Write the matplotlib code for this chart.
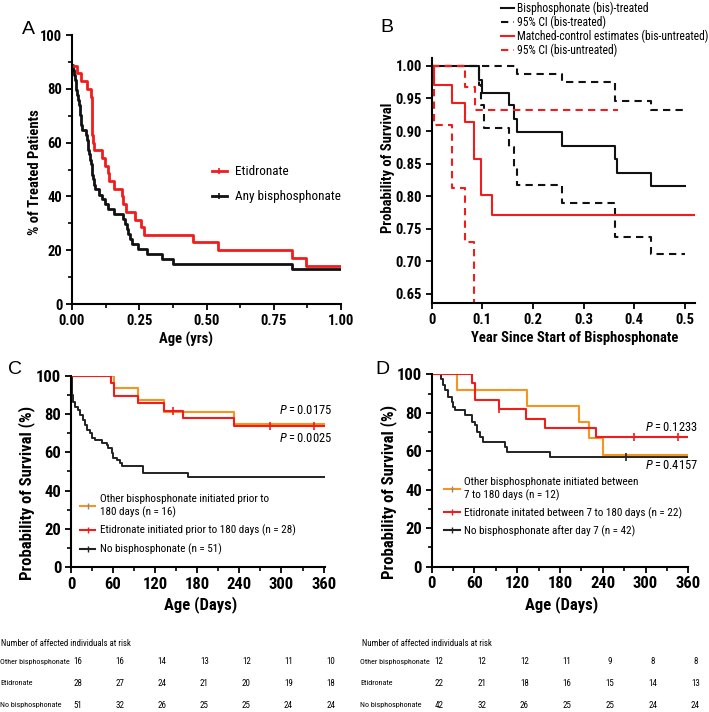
import numpy as np
import matplotlib
matplotlib.use("Agg")
import matplotlib.pyplot as plt
from matplotlib import font_manager
from matplotlib.lines import Line2D
from matplotlib.ticker import MultipleLocator
import matplotlib.transforms as mtransforms


def pick_narrow():
    prefs = ['Liberation Sans Narrow', 'Arial Narrow', 'Roboto Condensed', 'PT Sans Narrow',
             'Archivo Narrow', 'Fira Sans Condensed', 'Barlow Semi Condensed']
    for p in prefs:
        ws = []
        for f in font_manager.fontManager.ttflist:
            if f.name == p:
                try:
                    ws.append(int(f.weight))
                except (TypeError, ValueError):
                    ws.append(700 if 'bold' in str(f.weight) else 400)
        if ws and max(ws) >= 700 and min(ws) <= 400:
            return p
    return 'Liberation Sans'


NARROW = pick_narrow()
plt.rcParams['font.family'] = [NARROW, 'DejaVu Sans']
plt.rcParams['mathtext.fontset'] = 'custom'
plt.rcParams['mathtext.it'] = NARROW + ':italic'
plt.rcParams['mathtext.rm'] = NARROW

RED = '#f21c1c'
ORANGE = '#f7941d'
BLACK = '#111111'

# ---- panel A: % of treated patients vs age (yrs)
a_any_t = [0, 0.004, 0.007, 0.010, 0.013, 0.016, 0.019, 0.022, 0.025, 0.028, 0.031, 0.033,
           0.035, 0.038, 0.052, 0.055, 0.058, 0.061, 0.064, 0.067, 0.070, 0.073, 0.076,
           0.079, 0.082, 0.085, 0.101, 0.113, 0.123, 0.135, 0.155, 0.19, 0.197, 0.203,
           0.209, 0.215, 0.222, 0.247, 0.277, 0.333, 0.377, 0.818, 1.0]
a_any_s = [88.9, 87.0, 85.2, 83.3, 81.5, 79.6, 77.8, 75.9, 74.1, 72.2, 70.4, 68.5,
           66.7, 64.8, 63.0, 61.1, 59.3, 57.4, 55.6, 53.7, 51.9, 50.0, 48.1,
           46.3, 44.4, 42.6, 40.7, 38.9, 37.0, 35.2, 33.3, 31.5, 29.6, 27.8,
           25.9, 24.1, 22.2, 20.4, 18.5, 16.7, 14.8, 13.0, 13.0]
a_eti_t = [0, 0.017, 0.032, 0.057, 0.072, 0.073, 0.076, 0.078, 0.082, 0.11, 0.122, 0.135,
           0.138, 0.155, 0.185, 0.19, 0.2, 0.235, 0.255, 0.267, 0.449, 0.544, 0.818, 0.87, 1.0]
a_eti_s = [88.6, 85.7, 82.9, 80.0, 77.1, 65.7, 62.9, 60.0, 57.1, 54.3, 51.4, 48.6,
           45.7, 42.9, 40.0, 37.1, 34.3, 31.4, 28.6, 25.7, 22.9, 20.0, 17.1, 14.3, 14.3]
a_xticks = [0, 0.25, 0.5, 0.75, 1.0]
a_xlabels = ['0.00', '0.25', '0.50', '0.75', '1.00']
a_yticks = [0, 20, 40, 60, 80, 100]

# ---- panel B: probability of survival vs year since start
b_trt_t = [0, 0.094, 0.100, 0.153, 0.163, 0.168, 0.258, 0.362, 0.365, 0.434, 0.5]
b_trt_s = [1.0, 0.979, 0.959, 0.940, 0.919, 0.898, 0.877, 0.857, 0.836, 0.815, 0.815]
b_trt_hi_t = [0, 0.168, 0.258, 0.362, 0.434, 0.5]
b_trt_hi_s = [1.0, 0.987, 0.975, 0.946, 0.932, 0.932]
b_trt_lo_t = [0, 0.094, 0.098, 0.103, 0.153, 0.163, 0.168, 0.258, 0.362, 0.434, 0.5]
b_trt_lo_s = [1.0, 0.97, 0.94, 0.905, 0.875, 0.845, 0.817, 0.79, 0.738, 0.712, 0.712]
b_ctl_t = [0, 0.005, 0.041, 0.066, 0.084, 0.097, 0.12, 0.52]
b_ctl_s = [1.0, 0.971, 0.943, 0.914, 0.857, 0.802, 0.771, 0.771]
b_ctl_hi_t = [0, 0.066, 0.086, 0.368]
b_ctl_hi_s = [1.0, 0.968, 0.932, 0.932]
b_ctl_lo_t = [0, 0.005, 0.041, 0.066, 0.084]
b_ctl_lo_s = [1.0, 0.909, 0.812, 0.730, 0.60]
b_labels = ['Bisphosphonate (bis)-treated', '95% CI (bis-treated)',
            'Matched-control estimates (bis-untreated)', '95% CI (bis-untreated)']
b_xticks = [0, 0.1, 0.2, 0.3, 0.4, 0.5]
b_xlabels = ['0', '0.1', '0.2', '0.3', '0.4', '0.5']
b_yticks = [0.65, 0.70, 0.75, 0.80, 0.85, 0.90, 0.95, 1.00]

# ---- panel C: bisphosphonate initiated prior to 180 days
c_oth_t = [0, 61, 95, 133, 232, 362]
c_oth_s = [100, 93.75, 87.5, 81.25, 75.0, 75.0]
c_eti_t = [0, 57, 61, 95, 133, 160, 232, 362]
c_eti_s = [100, 96.4, 89.3, 85.7, 81.9, 78.0, 74.0, 74.0]
c_eti_cens = [146, 284, 346]
c_no_t = [0, 1, 3.3, 5.7, 10.5, 12.8, 17.6, 20, 22.4, 27.1, 29.5, 34.2, 43.8, 50.9, 53.3,
          58, 60.4, 65.2, 69.9, 73.3, 103.2, 167.4, 362]
c_no_s = [100, 90.1, 86.6, 84.0, 82.2, 79.6, 77.0, 74.4, 71.8, 70.1, 67.5, 66.6, 64.9, 64.0,
          62.2, 59.6, 57.0, 56.1, 54.4, 52.6, 49.2, 47.1, 47.1]
c_labels = ['Other bisphosphonate initiated prior to\n180 days (n = 16)',
            'Etidronate initiated prior to 180 days (n = 28)',
            'No bisphosphonate (n = 51)']
c_pvals = ['0.0175', '0.0025']
c_risk = [[16, 16, 14, 13, 12, 11, 10],
          [28, 27, 24, 21, 20, 19, 18],
          [51, 32, 26, 25, 25, 24, 24]]

# ---- panel D: initiated between 7 and 180 days
d_oth_t = [0, 35, 133, 206, 220, 241, 360]
d_oth_s = [100, 91.7, 83.3, 75.0, 66.7, 58.3, 58.3]
d_eti_t = [0, 57, 61, 94, 132, 159, 231, 360]
d_eti_s = [100, 95.5, 86.4, 81.8, 77.0, 72.2, 67.4, 67.4]
d_eti_cens = [94, 284, 345]
d_no_t = [0, 12.6, 16.3, 18.7, 23.4, 28.1, 30.4, 32.7, 46.8, 56.1, 60.8, 63.1, 67.8, 72.5,
          102.9, 105.3, 166, 360]
d_no_s = [100, 97.6, 94.4, 91.8, 88.4, 85.8, 83.2, 81.5, 78.9, 75.4, 73.7, 70.2, 67.6, 65.0,
          62.1, 59.8, 56.9, 56.9]
d_no_cens = [272]
d_labels = ['Other bisphosphonate initiated between\n7 to 180 days (n = 12)',
            'Etidronate initated between 7 to 180 days (n = 22)',
            'No bisphosphonate after day 7 (n = 42)']
d_pvals = ['0.1233', '0.4157']
d_risk = [[12, 12, 12, 11, 9, 8, 8],
          [22, 21, 18, 16, 15, 14, 13],
          [42, 32, 26, 25, 25, 24, 24]]

risk_rows = ['Other bisphosphonate', 'Etidronate', 'No bisphosphonate']
risk_days = [0, 60, 120, 180, 240, 300, 360]
km_yticks = [0, 20, 40, 60, 80, 100]


def style(ax, fs, xt, xl, yt, yl):
    for s in ['top', 'right']:
        ax.spines[s].set_visible(False)
    for s in ['left', 'bottom']:
        ax.spines[s].set_linewidth(1.5)
    ax.set_xticks(xt, xl, fontsize=fs, fontweight='bold')
    ax.set_yticks(yt, yl, fontsize=fs, fontweight='bold')
    ax.tick_params(which='major', length=4.5, width=1.3, direction='out', pad=2.5)
    ax.tick_params(which='minor', length=3, width=1.2, direction='out')


def labels(ax, xl, yl, fs, xpos, ypos):
    ax.set_xlabel(xl, fontsize=fs, fontweight='bold')
    ax.set_ylabel(yl, fontsize=fs, fontweight='bold')
    ax.xaxis.set_label_coords(*xpos)
    ax.yaxis.set_label_coords(*ypos)


def censor(ax, t_list, t, s, color):
    for c in t_list:
        i = np.searchsorted(t, c, side='right') - 1
        ax.plot([c], [s[i]], marker='|', color=color, ms=6, mew=1.2)


fig = plt.figure(figsize=(7.09, 7.12), dpi=100)

# ===== A
axA = fig.add_axes([0.1016, 0.5730, 0.3794, 0.3778])
axA.step(a_any_t, a_any_s, where='post', color=BLACK, lw=2)
axA.step(a_eti_t, a_eti_s, where='post', color=RED, lw=2)
style(axA, 10.5, a_xticks, a_xlabels, a_yticks, [str(v) for v in a_yticks])
axA.set_xlim(0, 1.0)
axA.set_ylim(0, 100)
axA.xaxis.set_minor_locator(MultipleLocator(0.125))
axA.yaxis.set_minor_locator(MultipleLocator(10))
labels(axA, 'Age (yrs)', '% of Treated Patients', 10.5, (0.424, -0.105), (-0.112, 0.489))
hA = [Line2D([], [], color=RED, lw=2, marker='|', ms=5, mew=1.2),
      Line2D([], [], color=BLACK, lw=2, marker='|', ms=5, mew=1.2)]
axA.legend(hA, ['Etidronate', 'Any bisphosphonate'], loc='upper left',
           bbox_to_anchor=(0.52, 0.515), frameon=False, fontsize=9.5, handlelength=1.15,
           labelspacing=0.9, handletextpad=0.6, borderpad=0, borderaxespad=0)

# ===== B
axB = fig.add_axes([0.6089, 0.5744, 0.3714, 0.3441])
dash = (0, (3.5, 2.5))
axB.step(b_trt_t, b_trt_s, where='post', color=BLACK, lw=1.5, label=b_labels[0])
axB.step(b_trt_hi_t, b_trt_hi_s, where='post', color=BLACK, lw=1.5, ls=dash, label=b_labels[1])
axB.step(b_trt_lo_t, b_trt_lo_s, where='post', color=BLACK, lw=1.5, ls=dash)
axB.step(b_ctl_t, b_ctl_s, where='post', color=RED, lw=1.5, label=b_labels[2])
axB.step(b_ctl_hi_t, b_ctl_hi_s, where='post', color=RED, lw=1.5, ls=dash, label=b_labels[3])
axB.step(b_ctl_lo_t, b_ctl_lo_s, where='post', color=RED, lw=1.5, ls=dash)
style(axB, 10.5, b_xticks, b_xlabels, b_yticks, ['%.2f' % v for v in b_yticks])
axB.set_xlim(0, 0.52)
axB.set_ylim(0.636, 1.012)
labels(axB, 'Year Since Start of Bisphosphonate', 'Probability of Survival', 10.5,
       (0.544, -0.115), (-0.139, 0.553))
axB.legend(loc='upper left', bbox_to_anchor=(500 / 709, 1.0), bbox_transform=fig.transFigure,
           frameon=False, fontsize=8.3, handlelength=1.1, labelspacing=0.05, handletextpad=0.3,
           borderpad=0.1, borderaxespad=0)


# ===== C and D
def km_panel(rect, oth, eti, no, eti_cens, no_cens, labs, pvals, pv_xy, leg_anchor,
             xpos, ypos, lspace):
    ax = fig.add_axes(rect)
    ax.step(no[0], no[1], where='post', color='#222222', lw=1.4)
    ax.step(oth[0], oth[1], where='post', color=ORANGE, lw=1.5)
    ax.step(eti[0], eti[1], where='post', color=RED, lw=1.5)
    censor(ax, eti_cens, eti[0], eti[1], RED)
    censor(ax, no_cens, no[0], no[1], '#222222')
    style(ax, 12, risk_days, [str(d) for d in risk_days], km_yticks,
          [str(v) for v in km_yticks])
    ax.set_ylim(0, 100)
    ax.xaxis.set_minor_locator(MultipleLocator(30))
    ax.yaxis.set_minor_locator(MultipleLocator(10))
    labels(ax, 'Age (Days)', 'Probability of Survival (%)', 12, xpos, ypos)
    hs = [Line2D([], [], color=ORANGE, lw=1.5, marker='|', ms=5, mew=1, mec='#888888'),
          Line2D([], [], color=RED, lw=1.5, marker='|', ms=5, mew=1),
          Line2D([], [], color='#222222', lw=1.5, marker='|', ms=5, mew=1)]
    ax.legend(hs, labs, loc='upper left', bbox_to_anchor=leg_anchor, frameon=False,
              fontsize=8.0, handlelength=1.4, labelspacing=lspace, handletextpad=0.4,
              borderpad=0, borderaxespad=0)
    for (x, y), p in zip(pv_xy, pvals):
        ax.text(x, y, r'$P$' + '\u2009=\u2009' + p, ha='right', va='center', fontsize=9)
    return ax


axC = km_panel([0.1001, 0.2037, 0.3583, 0.2683], (c_oth_t, c_oth_s), (c_eti_t, c_eti_s),
               (c_no_t, c_no_s), c_eti_cens, [], c_labels, c_pvals,
               [(372, 82), (372, 67.5)], (0.035, 0.38), (0.51, -0.15), (-0.142, 0.39), 0.65)
axC.set_xlim(0, 362)
axD = km_panel([0.6089, 0.2041, 0.3619, 0.2702], (d_oth_t, d_oth_s), (d_eti_t, d_eti_s),
               (d_no_t, d_no_s), d_eti_cens, d_no_cens, d_labels, d_pvals,
               [(374, 72.5), (374, 52.4)], (0.048, 0.465), (0.507, -0.153), (-0.135, 0.39),
               0.6)
axD.set_xlim(0, 360)

# risk tables
row_y = [1 - 662 / 712, 1 - 683 / 712, 1 - 705 / 712]
for ax, risk, x0 in [(axC, c_risk, 0.0), (axD, d_risk, 0.508)]:
    tr = mtransforms.blended_transform_factory(ax.transData, fig.transFigure)
    fig.text(x0 + 0.002, 1 - 643 / 712, 'Number of affected individuals at risk',
             fontsize=6.3, va='center', ha='left')
    for name, vals, y in zip(risk_rows, risk, row_y):
        fig.text(x0, y, name, fontsize=5.8, va='center', ha='left')
        for d, v in zip(risk_days, vals):
            ax.text(d + 10, y, str(v), transform=tr, fontsize=6.5, va='center', ha='center',
                    clip_on=False)

# panel letters
for letter, x, y in [('A', 28, 30), ('B', 387, 27), ('C', 15, 370), ('D', 382, 369)]:
    fig.text(x / 709, 1 - y / 712, letter, fontsize=14, ha='center', va='center',
             family=['Liberation Sans', 'DejaVu Sans'])

fig.savefig('out.png', dpi=100)
